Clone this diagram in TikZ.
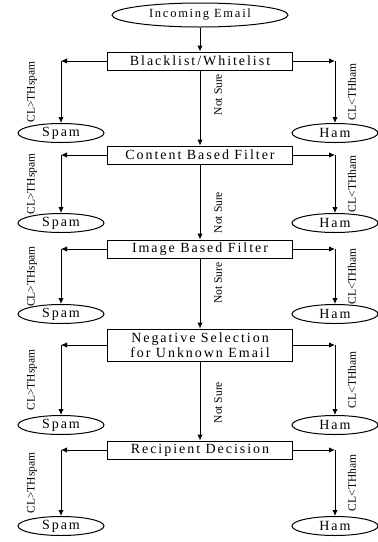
\documentclass[tikz,border=0pt]{standalone}
\usepackage{fontspec}
\setmainfont{Liberation Serif}
\newfontfamily\boxfont[LetterSpace=14]{Liberation Serif}
\usetikzlibrary{arrows.meta,positioning,shapes.geometric}
\tikzset{
  mailstart/.style = {
    ellipse,
    draw,
    line width=1pt,
    inner sep=0pt,
    minimum width=176pt,
    minimum height=24pt,
    font=\boxfont\fontsize{12.5}{14}\selectfont
  },
  filterbox/.style = {
    rectangle,
    draw,
    line width=1pt,
    align=center,
    inner sep=0.5pt,
    minimum width=185pt,
    minimum height=18pt,
    font=\boxfont\fontsize{14}{15}\selectfont
  },
  verdict/.style = {
    ellipse,
    draw,
    line width=1pt,
    inner sep=0pt,
    minimum width=86pt,
    minimum height=19pt,
    font=\boxfont\fontsize{14}{15}\selectfont
  },
  rulelabel/.style = {
    inner sep=0pt,
    font=\fontsize{11.5}{13}\selectfont
  },
  flowarrow/.style = {
    -{Latex[length=6pt,width=5.5pt]},
    line width=1pt
  }
}
\begin{document}
\begin{tikzpicture}[x=1pt,y=1pt]
    \useasboundingbox (0,0) rectangle (378,-542);
    \node[mailstart] (incoming) at (200,-15) {Incoming Email};
    \node[filterbox, below=24pt of incoming] (blacklist) {Blacklist/Whitelist};
    \node[filterbox, below=75pt of blacklist] (content) {Content Based Filter};
    \node[filterbox, below=75pt of content] (image) {Image Based Filter};
    \node[filterbox, below=70pt of image, minimum height=32pt] (negsel) {Negative Selection\\for Unknown Email};
    \node[filterbox, below=79pt of negsel] (recipient) {Recipient Decision};
    % corners of the side branches
    \coordinate[left=46pt of blacklist.west] (bl-left);
    \coordinate[right=42pt of blacklist.east] (bl-right);
    \coordinate[left=46pt of content.west] (cb-left);
    \coordinate[right=42pt of content.east] (cb-right);
    \coordinate[left=46pt of image.west] (ib-left);
    \coordinate[right=42pt of image.east] (ib-right);
    \coordinate[left=46pt of negsel.west] (ns-left);
    \coordinate[right=42pt of negsel.east] (ns-right);
    \coordinate[left=46pt of recipient.west] (rd-left);
    \coordinate[right=42pt of recipient.east] (rd-right);
    \node[verdict, below=62pt of bl-left] (spam1) {Spam};
    \node[verdict, below=62pt of bl-right] (ham1) {Ham};
    \node[verdict, below=58pt of cb-left] (spam2) {Spam};
    \node[verdict, below=58pt of cb-right] (ham2) {Ham};
    \node[verdict, below=55pt of ib-left] (spam3) {Spam};
    \node[verdict, below=55pt of ib-right] (ham3) {Ham};
    \node[verdict, below=70pt of ns-left] (spam4) {Spam};
    \node[verdict, below=70pt of ns-right] (ham4) {Ham};
    \node[verdict, below=66pt of rd-left] (spam5) {Spam};
    \node[verdict, below=66pt of rd-right] (ham5) {Ham};
    % main column
    \draw[flowarrow] (incoming) -- (blacklist);
    \draw[flowarrow] (blacklist) -- node[rulelabel, pos=0.32, xshift=18pt, rotate=90] {Not Sure} (content);
    \draw[flowarrow] (content) -- node[rulelabel, pos=0.64, xshift=18pt, rotate=90] {Not Sure} (image);
    \draw[flowarrow] (image) -- node[rulelabel, pos=0.35, xshift=18pt, rotate=90] {Not Sure} (negsel);
    \draw[flowarrow] (negsel) -- node[rulelabel, pos=0.52, xshift=18pt, rotate=90] {Not Sure} (recipient);
    % side branches
    \draw[flowarrow] (blacklist.west) -- (bl-left);
    \draw[flowarrow] (bl-left) -- node[rulelabel, xshift=-29pt, rotate=90] {CL>THspam} (spam1);
    \draw[flowarrow] (blacklist.east) -- (bl-right);
    \draw[flowarrow] (bl-right) -- node[rulelabel, xshift=17pt, rotate=90] {CL<THham} (ham1);
    \draw[flowarrow] (content.west) -- (cb-left);
    \draw[flowarrow] (cb-left) -- node[rulelabel, xshift=-29pt, rotate=90] {CL>THspam} (spam2);
    \draw[flowarrow] (content.east) -- (cb-right);
    \draw[flowarrow] (cb-right) -- node[rulelabel, xshift=17pt, rotate=90] {CL<THham} (ham2);
    \draw[flowarrow] (image.west) -- (ib-left);
    \draw[flowarrow] (ib-left) -- node[rulelabel, xshift=-29pt, rotate=90] {CL>THspam} (spam3);
    \draw[flowarrow] (image.east) -- (ib-right);
    \draw[flowarrow] (ib-right) -- node[rulelabel, xshift=17pt, rotate=90] {CL<THham} (ham3);
    \draw[flowarrow] (negsel.west) -- (ns-left);
    \draw[flowarrow] (ns-left) -- node[rulelabel, xshift=-29pt, rotate=90] {CL>THspam} (spam4);
    \draw[flowarrow] (negsel.east) -- (ns-right);
    \draw[flowarrow] (ns-right) -- node[rulelabel, xshift=17pt, rotate=90] {CL<THham} (ham4);
    \draw[flowarrow] (recipient.west) -- (rd-left);
    \draw[flowarrow] (rd-left) -- node[rulelabel, xshift=-29pt, rotate=90] {CL>THspam} (spam5);
    \draw[flowarrow] (recipient.east) -- (rd-right);
    \draw[flowarrow] (rd-right) -- node[rulelabel, xshift=17pt, rotate=90] {CL<THham} (ham5);
  \end{tikzpicture}
\end{document}
